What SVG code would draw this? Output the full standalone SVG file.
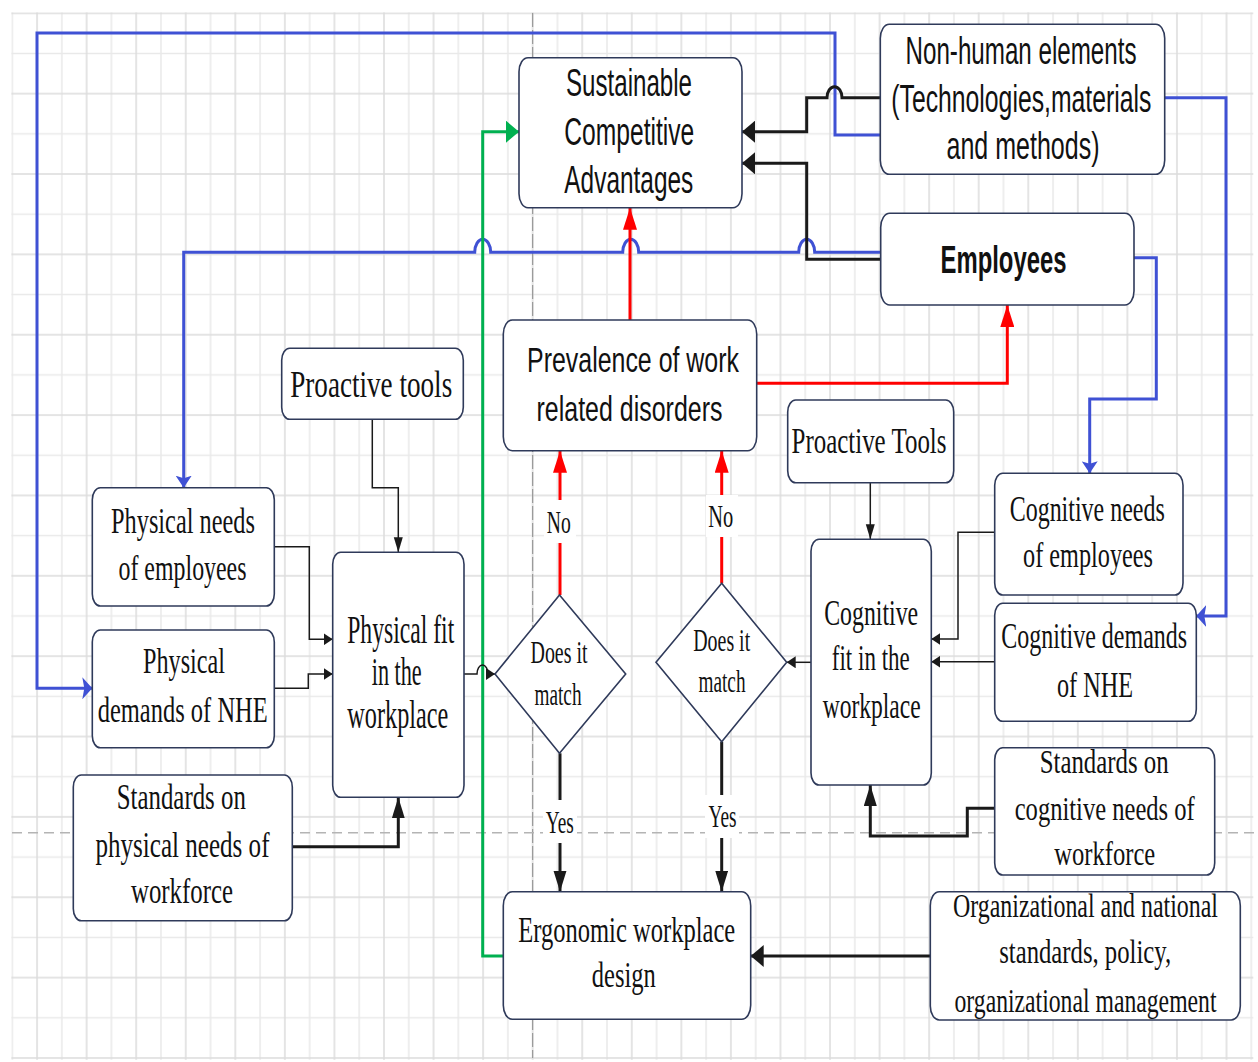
<svg xmlns="http://www.w3.org/2000/svg" width="1258" height="1062" viewBox="0 0 1258 1062">
  <style>
    .box { fill: #fff; stroke: #2f3a5a; stroke-width: 1.6; }
    .sans { font-family: "Liberation Sans", Arial, sans-serif; fill: #111; text-anchor: middle; }
    .serif { font-family: "Liberation Serif", "Times New Roman", serif; fill: #111; text-anchor: middle; }
    .bold { font-weight: bold; }
    .blue { fill: none; stroke: #3f51d4; stroke-width: 3; }
    .blk { fill: none; stroke: #1a1a1a; stroke-width: 3; }
    .thin { fill: none; stroke: #1a1a1a; stroke-width: 1.5; }
    .red { fill: none; stroke: #ff0000; stroke-width: 3; }
    .green { fill: none; stroke: #00b050; stroke-width: 3; }
    .lbl-bg { fill: #fff; }
  </style>
  <defs>
    <pattern id="grid" patternUnits="userSpaceOnUse" x="11.3" y="12.3" width="49.56" height="80.36">
      <path d="M1 0V80.36M0 41.18H49.56" stroke="#e9e9e9" stroke-width="1.5" fill="none"/>
      <path d="M25.78 0V80.36M0 1H49.56" stroke="#dcdcdc" stroke-width="1.5" fill="none"/>
    </pattern>
    <!-- arrowheads: horizontal (h) and vertical (v) proportions -->
    <marker id="bh" markerUnits="userSpaceOnUse" markerWidth="14" markerHeight="22" refX="13" refY="11" orient="auto"><path d="M0,0 L13,11 L0,22 z" fill="#1a1a1a"/></marker>
    <marker id="bv" markerUnits="userSpaceOnUse" markerWidth="22" markerHeight="14" refX="21" refY="6.5" orient="auto"><path d="M0,0 L21,6.5 L0,13 z" fill="#1a1a1a"/></marker>
    <marker id="sh" markerUnits="userSpaceOnUse" markerWidth="10" markerHeight="12" refX="9" refY="6" orient="auto"><path d="M0,0 L9,6 L0,12 z" fill="#1a1a1a"/></marker>
    <marker id="sv" markerUnits="userSpaceOnUse" markerWidth="16" markerHeight="10" refX="15" refY="4.5" orient="auto"><path d="M0,0 L15,4.5 L0,9 z" fill="#1a1a1a"/></marker>
    <marker id="rv" markerUnits="userSpaceOnUse" markerWidth="23" markerHeight="14" refX="22" refY="7" orient="auto"><path d="M0,0 L22,7 L0,14 z" fill="#ff0000"/></marker>
    <marker id="gh" markerUnits="userSpaceOnUse" markerWidth="14" markerHeight="22" refX="13" refY="11" orient="auto"><path d="M0,0 L13,11 L0,22 z" fill="#00b050"/></marker>
    <marker id="blh" markerUnits="userSpaceOnUse" markerWidth="11" markerHeight="22" refX="10" refY="11" orient="auto"><path d="M0,0 L10,11 L0,22 L2,11 z" fill="#3f51d4"/></marker>
    <marker id="blv" markerUnits="userSpaceOnUse" markerWidth="13" markerHeight="16" refX="12" refY="8" orient="auto"><path d="M0,0 L12,8 L0,16 L2.5,8 z" fill="#3f51d4"/></marker>
  </defs>

  <!-- page background and grid -->
  <rect width="1258" height="1062" fill="#fff"/>
  <rect x="11.3" y="12.3" width="1242" height="1047.5" fill="url(#grid)"/>
  <path d="M532.7 13V1058" stroke="#8a8a8a" stroke-width="1" stroke-dasharray="14 3" fill="none"/>
  <path d="M12 832.7H1258" stroke="#b4b4b4" stroke-width="1.5" stroke-dasharray="10 6" fill="none"/>

  <g id="connectors">
    <!-- blue feedback lines -->
    <path class="blue" d="M880.3 135H835V33H37V688.3H92.3" marker-end="url(#blh)"/>
    <path class="blue" d="M880.7 252.3H814.7A8 13 0 0 0 798.7 252.3H638.7A8 13 0 0 0 622.7 252.3H490.7A8 13 0 0 0 474.7 252.3H183.7V487.7" marker-end="url(#blv)"/>
    <path class="blue" d="M1134 257.7H1156.3V399H1089.7V473.3" marker-end="url(#blv)"/>
    <path class="blue" d="M1164.7 97.7H1226V616H1196.3" marker-end="url(#blh)"/>

    <!-- inputs to sustainable competitive advantages -->
    <path class="blk" d="M880.3 97.7H842A7.5 11 0 0 0 827 97.7H806.7V131.7H742" marker-end="url(#bh)"/>
    <path class="blk" d="M880.7 259.3H806.7V163.3H742" marker-end="url(#bh)"/>
    <path class="red" d="M630 320V207.7" marker-end="url(#rv)"/>
    <path class="red" d="M756.7 383.3H1007.3V305" marker-end="url(#rv)"/>
    <path class="green" d="M503.3 956H482.7V131.7H519" marker-end="url(#gh)"/>

    <!-- physical branch -->
    <path class="thin" d="M372.3 419.3V487.7H398.3V552.3" marker-end="url(#sv)"/>
    <path class="thin" d="M274.3 546.7H309.3V639.3H332.7" marker-end="url(#sh)"/>
    <path class="thin" d="M274.3 688.3H308.3V674H332.7" marker-end="url(#sh)"/>
    <path class="blk" d="M292.3 846.7H398.3V797.3" marker-end="url(#bv)"/>
    <path class="thin" d="M464 674H477A5.5 9 0 0 1 488 674H495" stroke-width="2" marker-end="url(#sh)"/>

    <!-- cognitive branch -->
    <path class="thin" d="M870.3 482.7V539.3" marker-end="url(#sv)"/>
    <path class="thin" d="M994.7 532.3H958V639H931.3" marker-end="url(#sh)"/>
    <path class="thin" d="M994.7 661.7H931.3" marker-end="url(#sh)"/>
    <path class="blk" d="M994.7 808.3H967.3V836H870.3V785" marker-end="url(#bv)"/>
    <path class="thin" d="M811 662.3H786.7" stroke-width="2" marker-end="url(#sh)"/>

    <!-- decisions -->
    <path class="red" d="M560 595V450.7" marker-end="url(#rv)"/>
    <path class="red" d="M721.7 583.3V450.7" marker-end="url(#rv)"/>
    <path class="blk" d="M560 753.3V891.7" marker-end="url(#bv)"/>
    <path class="blk" d="M721.7 741.7V891.7" marker-end="url(#bv)"/>
    <path class="blk" d="M930.3 956H750.7" marker-end="url(#bh)"/>

    <!-- decision labels -->
    <rect class="lbl-bg" x="544" y="500" width="32" height="43"/>
    <text class="serif" transform="matrix(.62 0 0 1 558.7 0)" x="0" y="533.3" font-size="32" textLength="38.7" lengthAdjust="spacingAndGlyphs">No</text>
    <rect class="lbl-bg" x="706" y="495" width="32" height="42"/>
    <text class="serif" transform="matrix(.62 0 0 1 720.8 0)" x="0" y="526.7" font-size="32" textLength="40.3" lengthAdjust="spacingAndGlyphs">No</text>
    <rect class="lbl-bg" x="543" y="800" width="34" height="43"/>
    <text class="serif" transform="matrix(.62 0 0 1 559.8 0)" x="0" y="833.3" font-size="32" textLength="45.2" lengthAdjust="spacingAndGlyphs">Yes</text>
    <rect class="lbl-bg" x="705" y="795" width="34" height="43"/>
    <text class="serif" transform="matrix(.62 0 0 1 722.5 0)" x="0" y="826.7" font-size="32" textLength="45.2" lengthAdjust="spacingAndGlyphs">Yes</text>
  </g>

  <g id="n-sca">
    <rect class="box" x="519" y="57.7" width="223" height="150" rx="9" ry="14"/>
    <text class="sans" transform="matrix(.62 0 0 1 629 0)" x="0" y="96" font-size="38" textLength="203.2" lengthAdjust="spacingAndGlyphs">Sustainable</text>
    <text class="sans" transform="matrix(.62 0 0 1 629.3 0)" x="0" y="145" font-size="38" textLength="209.7" lengthAdjust="spacingAndGlyphs">Competitive</text>
    <text class="sans" transform="matrix(.62 0 0 1 628.8 0)" x="0" y="193.5" font-size="38" textLength="208.1" lengthAdjust="spacingAndGlyphs">Advantages</text>
  </g>

  <g id="n-nonhuman">
    <rect class="box" x="880.3" y="24.3" width="284.4" height="150" rx="9" ry="14"/>
    <text class="sans" transform="matrix(.62 0 0 1 1021 0)" x="0" y="64" font-size="38" textLength="372.6" lengthAdjust="spacingAndGlyphs">Non-human elements</text>
    <text class="sans" transform="matrix(.62 0 0 1 1021.3 0)" x="0" y="112" font-size="38" textLength="419.4" lengthAdjust="spacingAndGlyphs">(Technologies,materials</text>
    <text class="sans" transform="matrix(.62 0 0 1 1023 0)" x="0" y="159.5" font-size="38" textLength="246.8" lengthAdjust="spacingAndGlyphs">and methods)</text>
  </g>

  <g id="n-employees">
    <rect class="box" x="880.7" y="213.3" width="253.3" height="91.7" rx="9" ry="14"/>
    <text class="sans bold" transform="matrix(.62 0 0 1 1003.5 0)" x="0" y="273.3" font-size="38" textLength="203.2" lengthAdjust="spacingAndGlyphs">Employees</text>
  </g>

  <g id="n-prevalence">
    <rect class="box" x="503.3" y="320" width="253.4" height="130.7" rx="9" ry="14"/>
    <text class="sans" transform="matrix(.62 0 0 1 633 0)" x="0" y="371.7" font-size="35" textLength="341.9" lengthAdjust="spacingAndGlyphs">Prevalence of work</text>
    <text class="sans" transform="matrix(.62 0 0 1 629.5 0)" x="0" y="420.7" font-size="35" textLength="300" lengthAdjust="spacingAndGlyphs">related disorders</text>
  </g>

  <g id="n-proactive-physical">
    <rect class="box" x="281.7" y="348.3" width="181.6" height="71" rx="8" ry="12"/>
    <text class="serif" transform="matrix(.62 0 0 1 371.2 0)" x="0" y="396.7" font-size="38" textLength="261.3" lengthAdjust="spacingAndGlyphs">Proactive tools</text>
  </g>

  <g id="n-physical-needs">
    <rect class="box" x="92.3" y="487.7" width="182" height="118.3" rx="8" ry="12"/>
    <text class="serif" transform="matrix(.62 0 0 1 183 0)" x="0" y="533.3" font-size="35" textLength="232.3" lengthAdjust="spacingAndGlyphs">Physical needs</text>
    <text class="serif" transform="matrix(.62 0 0 1 182.5 0)" x="0" y="580" font-size="35" textLength="206.5" lengthAdjust="spacingAndGlyphs">of employees</text>
  </g>

  <g id="n-physical-demands">
    <rect class="box" x="92.3" y="630" width="182" height="117.7" rx="8" ry="12"/>
    <text class="serif" transform="matrix(.62 0 0 1 184 0)" x="0" y="673.3" font-size="35" textLength="132.3" lengthAdjust="spacingAndGlyphs">Physical</text>
    <text class="serif" transform="matrix(.62 0 0 1 182.7 0)" x="0" y="721.7" font-size="35" textLength="274.2" lengthAdjust="spacingAndGlyphs">demands of NHE</text>
  </g>

  <g id="n-physical-standards">
    <rect class="box" x="73.3" y="775" width="219" height="145.7" rx="8" ry="12"/>
    <text class="serif" transform="matrix(.62 0 0 1 181.3 0)" x="0" y="809.3" font-size="35" textLength="208.1" lengthAdjust="spacingAndGlyphs">Standards on</text>
    <text class="serif" transform="matrix(.62 0 0 1 182.5 0)" x="0" y="856.7" font-size="35" textLength="280.6" lengthAdjust="spacingAndGlyphs">physical needs of</text>
    <text class="serif" transform="matrix(.62 0 0 1 182 0)" x="0" y="903.3" font-size="35" textLength="164.5" lengthAdjust="spacingAndGlyphs">workforce</text>
  </g>

  <g id="n-physical-fit">
    <rect class="box" x="332.7" y="552.3" width="131.3" height="245" rx="8" ry="12"/>
    <text class="serif" transform="matrix(.62 0 0 1 400.7 0)" x="0" y="643.3" font-size="40" textLength="172.6" lengthAdjust="spacingAndGlyphs">Physical fit</text>
    <text class="serif" transform="matrix(.62 0 0 1 396.7 0)" x="0" y="685" font-size="40" textLength="80.6" lengthAdjust="spacingAndGlyphs">in the</text>
    <text class="serif" transform="matrix(.62 0 0 1 397.8 0)" x="0" y="728.3" font-size="40" textLength="162.9" lengthAdjust="spacingAndGlyphs">workplace</text>
  </g>

  <g id="n-match-physical">
    <polygon class="box" points="559.5,595 625.7,674 559.5,753.3 495,674"/>
    <text class="serif" transform="matrix(.62 0 0 1 559 0)" x="0" y="663.3" font-size="31" textLength="91.9" lengthAdjust="spacingAndGlyphs">Does it</text>
    <text class="serif" transform="matrix(.62 0 0 1 558 0)" x="0" y="705" font-size="31" textLength="75.8" lengthAdjust="spacingAndGlyphs">match</text>
  </g>

  <g id="n-match-cognitive">
    <polygon class="box" points="721.7,583.3 786.7,662.3 721.7,741.7 656,662.3"/>
    <text class="serif" transform="matrix(.62 0 0 1 721.7 0)" x="0" y="651" font-size="31" textLength="91.9" lengthAdjust="spacingAndGlyphs">Does it</text>
    <text class="serif" transform="matrix(.62 0 0 1 722 0)" x="0" y="692.3" font-size="31" textLength="75.8" lengthAdjust="spacingAndGlyphs">match</text>
  </g>

  <g id="n-proactive-cognitive">
    <rect class="box" x="787.7" y="400" width="166" height="82.7" rx="8" ry="12"/>
    <text class="serif" transform="matrix(.62 0 0 1 869 0)" x="0" y="453.3" font-size="36" textLength="250" lengthAdjust="spacingAndGlyphs">Proactive Tools</text>
  </g>

  <g id="n-cognitive-fit">
    <rect class="box" x="811" y="539.3" width="120.3" height="245.7" rx="8" ry="12"/>
    <text class="serif" transform="matrix(.62 0 0 1 871.2 0)" x="0" y="625" font-size="35" textLength="151.6" lengthAdjust="spacingAndGlyphs">Cognitive</text>
    <text class="serif" transform="matrix(.62 0 0 1 870.8 0)" x="0" y="670" font-size="35" textLength="125.8" lengthAdjust="spacingAndGlyphs">fit in the</text>
    <text class="serif" transform="matrix(.62 0 0 1 871.7 0)" x="0" y="718.3" font-size="35" textLength="158.1" lengthAdjust="spacingAndGlyphs">workplace</text>
  </g>

  <g id="n-cognitive-needs">
    <rect class="box" x="994.7" y="473.3" width="188.3" height="121.7" rx="8" ry="12"/>
    <text class="serif" transform="matrix(.62 0 0 1 1087.2 0)" x="0" y="520.7" font-size="35" textLength="250" lengthAdjust="spacingAndGlyphs">Cognitive needs</text>
    <text class="serif" transform="matrix(.62 0 0 1 1088 0)" x="0" y="566.7" font-size="35" textLength="209.7" lengthAdjust="spacingAndGlyphs">of employees</text>
  </g>

  <g id="n-cognitive-demands">
    <rect class="box" x="994.7" y="603.3" width="201.6" height="118" rx="8" ry="12"/>
    <text class="serif" transform="matrix(.62 0 0 1 1094.2 0)" x="0" y="648.3" font-size="35" textLength="300" lengthAdjust="spacingAndGlyphs">Cognitive demands</text>
    <text class="serif" transform="matrix(.62 0 0 1 1095 0)" x="0" y="697" font-size="35" textLength="122.6" lengthAdjust="spacingAndGlyphs">of NHE</text>
  </g>

  <g id="n-cognitive-standards">
    <rect class="box" x="994.7" y="747.7" width="220" height="127.3" rx="8" ry="12"/>
    <text class="serif" transform="matrix(.62 0 0 1 1104.2 0)" x="0" y="773.3" font-size="34" textLength="208.1" lengthAdjust="spacingAndGlyphs">Standards on</text>
    <text class="serif" transform="matrix(.62 0 0 1 1104.7 0)" x="0" y="820" font-size="34" textLength="290.3" lengthAdjust="spacingAndGlyphs">cognitive needs of</text>
    <text class="serif" transform="matrix(.62 0 0 1 1104.7 0)" x="0" y="865" font-size="34" textLength="162.9" lengthAdjust="spacingAndGlyphs">workforce</text>
  </g>

  <g id="n-ergonomic">
    <rect class="box" x="503.3" y="891.7" width="247.4" height="127.6" rx="9" ry="14"/>
    <text class="serif" transform="matrix(.62 0 0 1 626.7 0)" x="0" y="941.7" font-size="35" textLength="350" lengthAdjust="spacingAndGlyphs">Ergonomic workplace</text>
    <text class="serif" transform="matrix(.62 0 0 1 623.8 0)" x="0" y="987.3" font-size="35" textLength="103.2" lengthAdjust="spacingAndGlyphs">design</text>
  </g>

  <g id="n-organizational">
    <rect class="box" x="930.3" y="891.7" width="310" height="128.3" rx="9" ry="14"/>
    <text class="serif" transform="matrix(.62 0 0 1 1085.5 0)" x="0" y="917.3" font-size="33" textLength="427.4" lengthAdjust="spacingAndGlyphs">Organizational and national</text>
    <text class="serif" transform="matrix(.62 0 0 1 1085.2 0)" x="0" y="963.3" font-size="33" textLength="277.4" lengthAdjust="spacingAndGlyphs">standards, policy,</text>
    <text class="serif" transform="matrix(.62 0 0 1 1085.5 0)" x="0" y="1011.7" font-size="33" textLength="422.6" lengthAdjust="spacingAndGlyphs">organizational management</text>
  </g>
</svg>
